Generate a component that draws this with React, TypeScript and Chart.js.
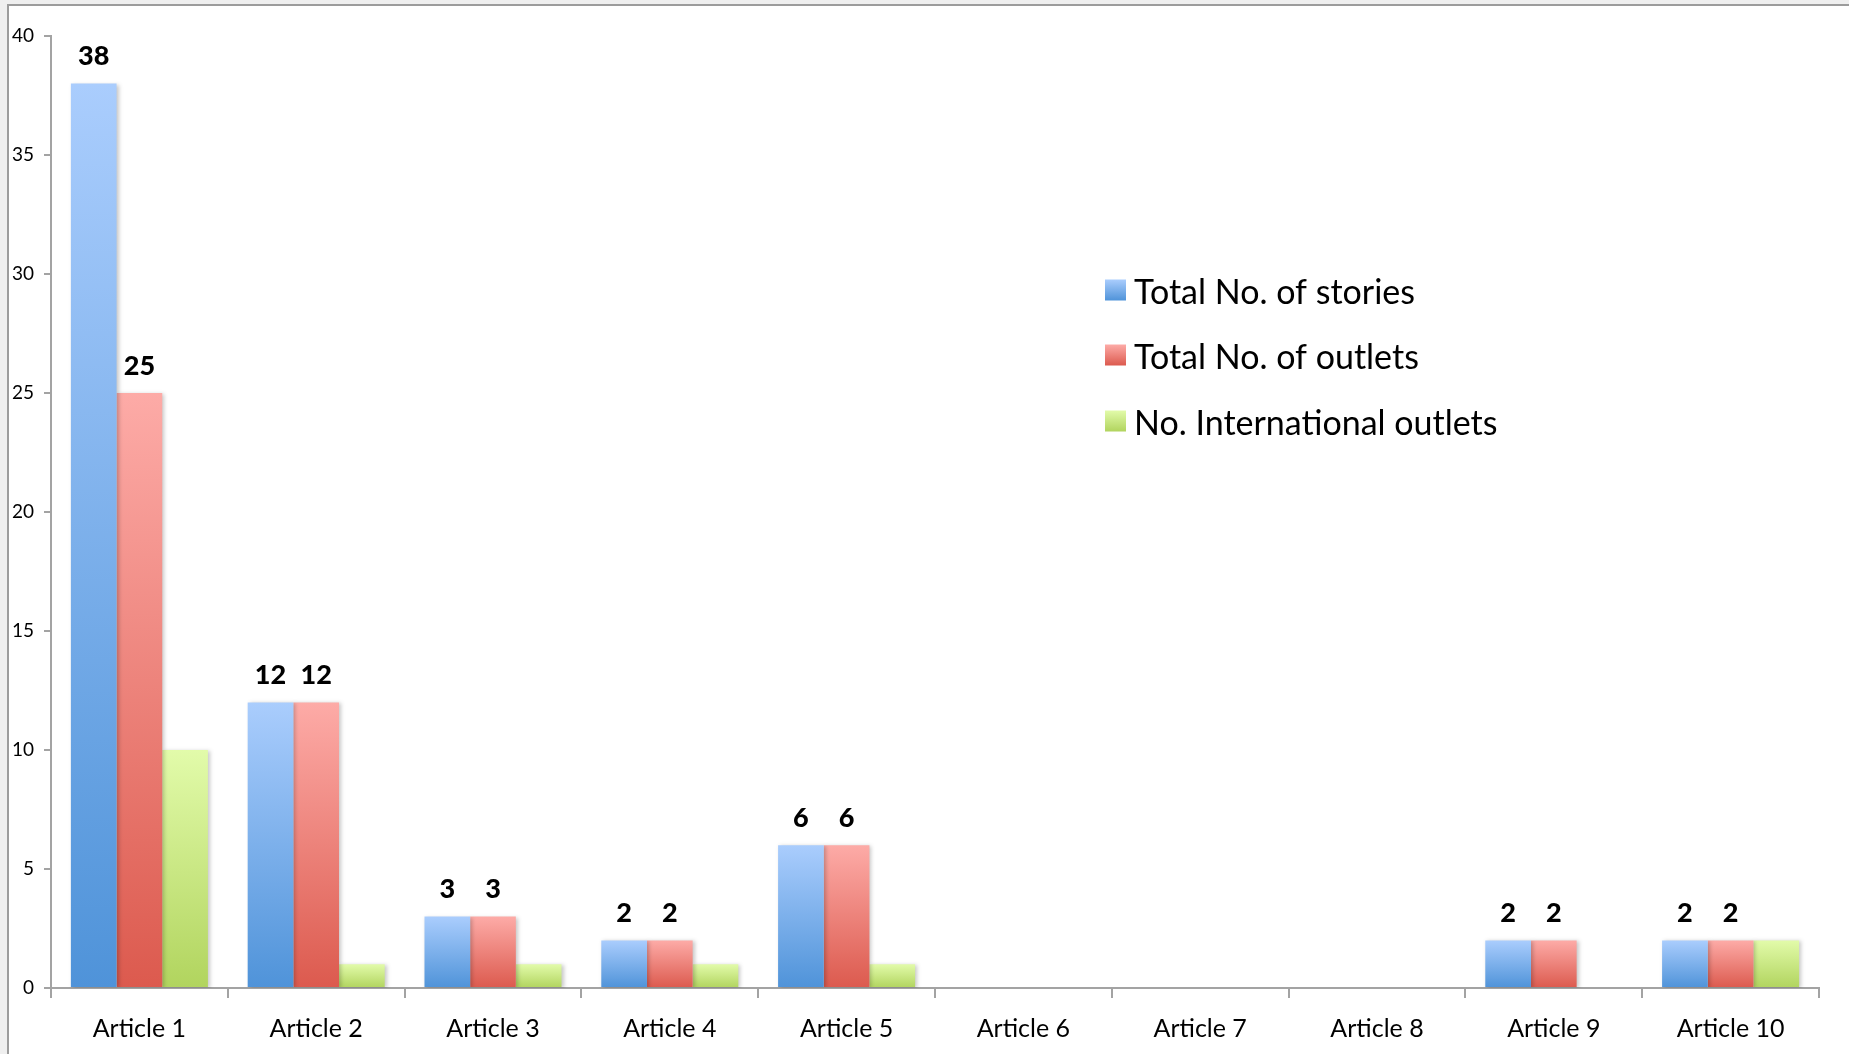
import React, { useEffect, useRef } from "react";
import { Chart, registerables } from "chart.js";

Chart.register(...registerables);

const categories = [
  "Article 1",
  "Article 2",
  "Article 3",
  "Article 4",
  "Article 5",
  "Article 6",
  "Article 7",
  "Article 8",
  "Article 9",
  "Article 10",
];
const totalStories = [38, 12, 3, 2, 6, 0, 0, 0, 2, 2];
const totalOutlets = [25, 12, 3, 2, 6, 0, 0, 0, 2, 2];
const intlOutlets = [10, 1, 1, 1, 1, 0, 0, 0, 0, 2];
const seriesLabels = [
  "Total No. of stories",
  "Total No. of outlets",
  "No. International outlets",
];
const labelledSeries = [0, 1];

const FONT = "Lato, 'Open Sans', sans-serif";
const AXIS = "#a3a3a3";
const gradients: [string, string][] = [
  ["#aacdfd", "#4f93d9"],
  ["#fdaba7", "#dc5a4e"],
  ["#e2fbaa", "#b1d45e"],
];

function barFill(stops: [string, string]) {
  return (ctx: any) => {
    const chart = ctx.chart;
    const y = chart.scales && chart.scales.y;
    if (!chart.chartArea || !y || ctx.type !== "data") return stops[1];
    const v = ctx.raw as number;
    const y0 = y.getPixelForValue(0);
    const y1 = y.getPixelForValue(v);
    if (!isFinite(y0) || !isFinite(y1) || y0 === y1) return stops[1];
    const g = chart.ctx.createLinearGradient(0, y1, 0, y0);
    g.addColorStop(0, stops[0]);
    g.addColorStop(1, stops[1]);
    return g;
  };
}

const framePlugin = {
  id: "frame",
  beforeDraw(chart: any) {
    const { ctx, width, height } = chart;
    ctx.save();
    ctx.fillStyle = "#ffffff";
    ctx.fillRect(0, 0, width, height);
    ctx.fillStyle = "#efefef";
    ctx.fillRect(0, 0, width, 4);
    ctx.fillRect(0, 0, 7, height);
    ctx.strokeStyle = "#9c9c9c";
    ctx.lineWidth = 2;
    ctx.beginPath();
    ctx.moveTo(7, 5);
    ctx.lineTo(width, 5);
    ctx.moveTo(8, 4);
    ctx.lineTo(8, height);
    ctx.stroke();
    ctx.restore();
  },
};

const shadowLabelPlugin = {
  id: "shadowLabels",
  beforeDatasetsDraw(chart: any) {
    const ctx = chart.ctx;
    ctx.save();
    ctx.shadowColor = "rgba(0,0,0,0.22)";
    ctx.shadowBlur = 4;
    ctx.shadowOffsetX = 2;
    ctx.shadowOffsetY = 1;
  },
  afterDatasetsDraw(chart: any) {
    const ctx = chart.ctx;
    ctx.restore();
    ctx.save();
    ctx.fillStyle = "#000";
    ctx.font = `900 27px ${FONT}`;
    ctx.textAlign = "center";
    ctx.textBaseline = "middle";
    labelledSeries.forEach((di) => {
      const meta = chart.getDatasetMeta(di);
      const data = chart.data.datasets[di].data as number[];
      meta.data.forEach((el: any, i: number) => {
        if (data[i] > 0) ctx.fillText(String(data[i]), el.x, el.y - 27);
      });
    });
    ctx.restore();
  },
};

const legendPlugin = {
  id: "customLegend",
  afterDraw(chart: any) {
    const ctx = chart.ctx;
    const boxX = 1105;
    const box = 21;
    const rows = [290, 355, 421];
    ctx.save();
    chart.data.datasets.forEach((ds: any, i: number) => {
      const cy = rows[i];
      const g = ctx.createLinearGradient(0, cy - box / 2, 0, cy + box / 2);
      g.addColorStop(0, gradients[i][0]);
      g.addColorStop(1, gradients[i][1]);
      ctx.fillStyle = g;
      ctx.fillRect(boxX, cy - box / 2, box, box);
      ctx.fillStyle = "#000";
      ctx.font = `34px ${FONT}`;
      ctx.textAlign = "left";
      ctx.textBaseline = "middle";
      ctx.fillText(ds.label, 1134, cy + 3);
    });
    ctx.restore();
  },
};

export default function App() {
  const ref = useRef<HTMLCanvasElement | null>(null);

  useEffect(() => {
    document.body.style.margin = "0";
    document.body.style.overflow = "hidden";
    if (!ref.current) return;
    const series = [totalStories, totalOutlets, intlOutlets];
    const chart = new Chart(ref.current, {
      type: "bar",
      data: {
        labels: categories,
        datasets: series.map((d, i) => ({
          label: seriesLabels[i],
          data: d,
          backgroundColor: barFill(gradients[i]),
          borderWidth: 0,
          barPercentage: 1,
          categoryPercentage: 0.775,
        })),
      },
      options: {
        animation: false,
        responsive: false,
        devicePixelRatio: 1,
        layout: { padding: { top: 36, right: 30, left: 0, bottom: 0 } },
        plugins: {
          legend: { display: false },
          tooltip: { enabled: false },
        },
        scales: {
          x: {
            type: "category",
            grid: {
              offset: true,
              drawOnChartArea: false,
              drawTicks: true,
              tickLength: 10,
              color: AXIS,
              lineWidth: 2,
            },
            border: { display: true, color: AXIS, width: 2 },
            ticks: {
              color: "#000",
              font: { family: FONT, size: 25 },
              padding: 16,
              maxRotation: 0,
              autoSkip: false,
            },
            afterFit: (scale: any) => {
              scale.height = 66;
            },
          },
          y: {
            min: 0,
            max: 40,
            grid: {
              drawOnChartArea: false,
              drawTicks: true,
              tickLength: 7,
              color: AXIS,
              lineWidth: 2,
            },
            border: { display: true, color: AXIS, width: 2 },
            ticks: {
              stepSize: 5,
              color: "#000",
              font: { family: FONT, size: 19 },
              padding: 10,
            },
            afterFit: (scale: any) => {
              scale.width = 51;
            },
          },
        },
      },
      plugins: [framePlugin, shadowLabelPlugin, legendPlugin],
    });
    return () => chart.destroy();
  }, []);

  return (
    <div style={{ width: 1849, height: 1054 }}>
      <canvas
        ref={ref}
        width={1849}
        height={1054}
        style={{ display: "block", width: 1849, height: 1054 }}
      />
    </div>
  );
}
